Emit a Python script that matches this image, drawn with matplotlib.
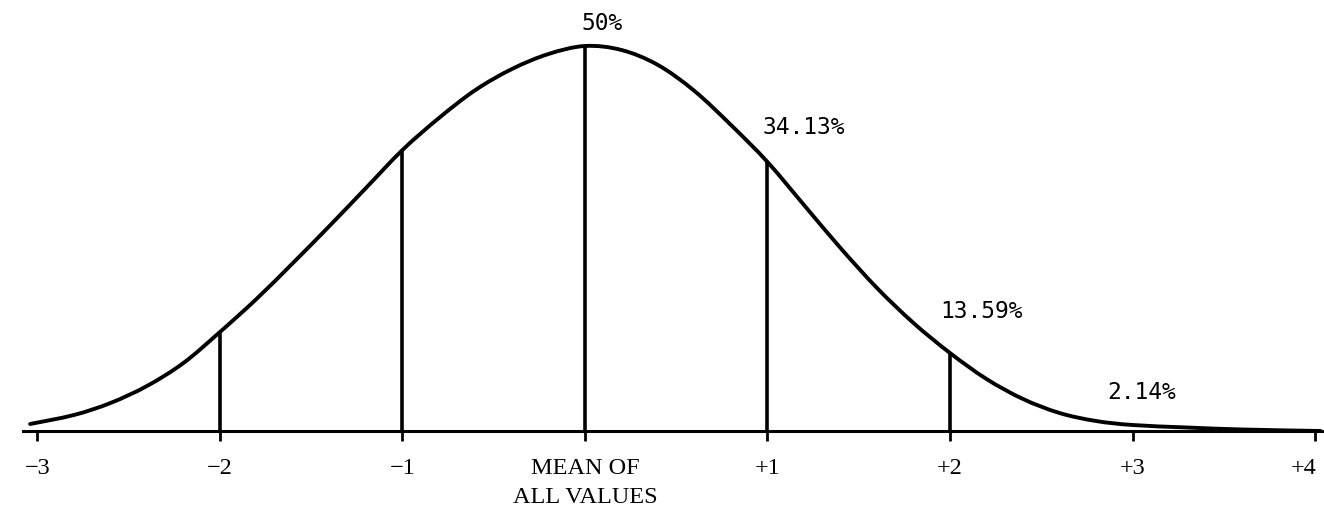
import matplotlib
matplotlib.use("Agg")
import matplotlib.pyplot as plt
import matplotlib.transforms as mtransforms
from matplotlib.path import Path
from matplotlib.patches import PathPatch
import numpy as np

# curve (x in standard deviations, height in arbitrary units)
curve_x = [-3.04, -2.8, -2.6, -2.4, -2.2, -2.0, -1.8, -1.6, -1.4, -1.2, -1.0,
           -0.8, -0.6, -0.4, -0.2, 0.0, 0.2, 0.4, 0.6, 0.8, 1.0,
           1.2, 1.4, 1.6, 1.8, 2.0, 2.2, 2.4, 2.6, 2.8, 3.0, 3.3, 3.6, 4.03]
curve_h = [7, 16, 28, 45, 68, 99, 132, 168, 205, 243, 281,
           313, 341, 362, 377, 385, 381, 366, 340, 306, 269,
           226, 183, 143, 108, 78, 52, 32, 18, 10, 6, 3.5, 1.5, 0]

# vertical division lines
line_x = [-2, -1, 0, 1, 2]
line_h = [99, 281, 385, 269, 78]

tick_pos = [-3, -2, -1, 0, 1, 2, 3, 4]
tick_labels = ["\u22123", "\u22122", "\u22121", "MEAN OF\nALL VALUES", "+1", "+2", "+3", "+4"]

pct_labels = ["50%", "34.13%", "13.59%", "2.14%"]
pct_x = [-0.02, 0.975, 1.945, 2.86]
pct_y = [408, 304, 120, 39]

fig = plt.figure(figsize=(13.24, 5.10), dpi=100)
ax = fig.add_axes([0, 0, 1, 1])
ax.set_xlim(-3.205, 4.049)
ax.set_ylim(-78, 432)

# smooth line through the read points (Catmull-Rom as cubic Bezier segments)
p = np.column_stack([curve_x, curve_h]).astype(float)
verts = [p[0]]
codes = [Path.MOVETO]
for i in range(len(p) - 1):
    p0 = p[i - 1] if i > 0 else p[i]
    p1, p2 = p[i], p[i + 1]
    p3 = p[i + 2] if i + 2 < len(p) else p[i + 1]
    verts += [p1 + (p2 - p0) / 6, p2 - (p3 - p1) / 6, p2]
    codes += [Path.CURVE4] * 3
ax.add_patch(PathPatch(Path(verts, codes), fill=False, edgecolor="black", lw=2.8,
                       capstyle="round"))

ax.vlines(line_x, 0, line_h, color="black", lw=2.6)

for s in ["top", "right", "left"]:
    ax.spines[s].set_visible(False)
ax.spines["bottom"].set_position(("data", 0))
ax.spines["bottom"].set_bounds(-3.08, 4.05)
ax.spines["bottom"].set_linewidth(2.2)
ax.set_yticks([])
ax.set_xticks(tick_pos)
ax.set_xticklabels(tick_labels, fontfamily="Liberation Serif", fontsize=17.5)
for lbl in ax.get_xticklabels():
    lbl.set_linespacing(1.45)
ax.tick_params(axis="x", direction="out", length=7, width=2, pad=12)
last = ax.get_xticklabels()[-1]
last.set_transform(last.get_transform() +
                   mtransforms.ScaledTranslation(-8 / 72, 0, fig.dpi_scale_trans))

for t, x, y in zip(pct_labels, pct_x, pct_y):
    ax.text(x, y, t, ha="left", va="center", fontfamily="DejaVu Sans Mono", fontsize=16.5)

fig.savefig("out.png", dpi=100)
